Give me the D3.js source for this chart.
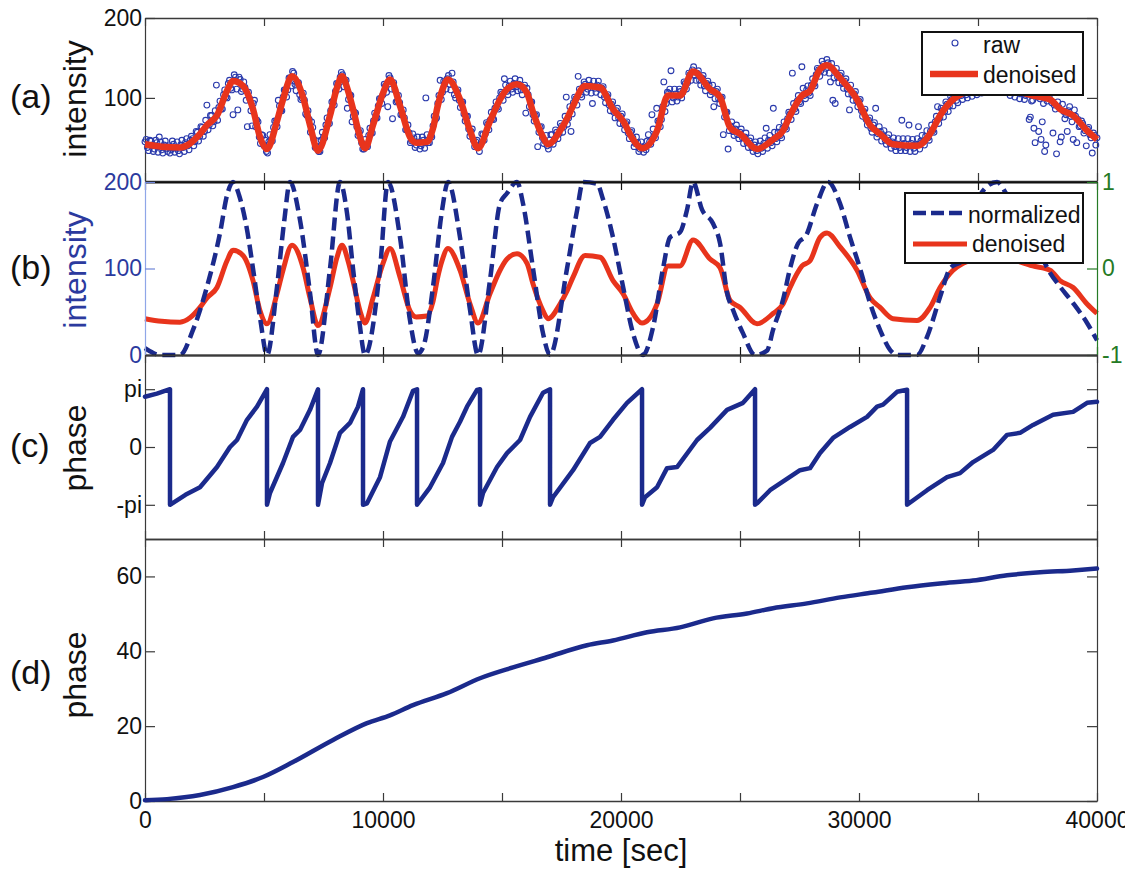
<!DOCTYPE html>
<html>
<head>
<meta charset="utf-8">
<script src="https://cdn.jsdelivr.net/npm/d3@7"></script>
<style>
  body { margin: 0; background: #fff; }
  svg { display: block; font-family: "Liberation Sans", Arial, Helvetica, sans-serif; }
</style>
</head>
<body>
<svg id="chart" width="1125" height="869"></svg>
<script>
// ---------- data ----------
const rawStep = 100;     // seconds between raw samples
const rawOffset = 50;    // the second set of samples sits halfway between the first
// raw intensity at t = 0, 100, 200, ... 40000 s
const rawIntensity = [
  45,38,47,40,36,44,51,35,41,37,
  40,35,42,37,34,41,38,44,40,47,
  49,45,57,52,63,58,91,66,78,70,
  116,88,86,104,101,118,112,79,126,85,
  123,111,113,64,99,65,97,72,51,54,
  40,33,45,47,63,70,97,84,101,110,
  110,125,133,117,119,104,100,97,78,73,
  70,48,39,33,47,51,66,69,84,96,
  108,117,126,129,121,87,104,70,82,64,
  57,44,36,40,53,56,71,75,90,99,
  104,115,89,125,74,110,96,94,79,75,
  60,56,46,50,41,45,40,47,100,44,
  52,65,73,93,122,107,119,124,117,131,
  104,108,97,95,80,77,61,58,47,45,
  39,42,54,55,67,72,74,87,88,100,
  105,124,108,115,111,118,114,117,110,113,
  81,104,95,79,78,39,63,50,46,40,
  42,54,47,57,55,65,64,101,75,58,
  94,99,127,104,113,117,111,116,93,112,
  116,111,112,101,102,91,92,82,84,75,
  77,67,68,56,57,50,43,44,36,39,
  38,46,45,79,53,87,70,73,120,93,
  106,134,100,105,101,108,107,118,119,129,
  135,128,131,122,125,115,118,116,108,89,
  108,99,100,54,82,36,65,58,61,54,
  57,50,51,44,46,38,41,34,40,37,
  43,62,47,44,87,49,57,53,62,63,
  74,80,131,86,96,95,139,103,110,106,
  116,117,129,135,134,142,137,144,120,97,
  93,126,128,118,121,111,85,104,105,96,
  96,84,83,73,72,62,66,87,55,58,
  54,47,50,43,45,39,42,38,72,43,
  38,66,43,37,41,64,46,45,52,50,
  58,59,70,89,75,84,83,92,90,98,
  101,97,105,103,109,104,111,107,113,108,
  115,110,118,111,116,113,119,114,117,112,
  113,116,110,114,108,112,107,110,105,109,
  103,106,76,97,44,101,99,70,33,96,
  100,94,91,30,88,51,83,79,84,77,
  48,77,73,65,68,59,61,54,31,53,
  50
];
// raw intensity at t = 50, 150, 250, ... 39950 s
const rawIntensityMid = [
  48,34,46,33,47,32,45,31,46,33,
  31,46,32,45,30,47,33,49,35,52,
  40,58,46,64,52,72,60,78,65,84,
  72,96,86,110,100,122,110,129,111,126,
  108,120,97,107,84,93,64,70,43,53,
  47,31,54,46,71,64,90,84,110,101,
  125,115,131,109,119,98,106,80,84,57,
  63,38,46,33,57,50,75,68,95,91,
  118,111,132,114,122,98,103,77,81,53,
  59,36,48,39,62,56,81,75,99,93,
  117,107,128,111,119,95,103,79,85,60,
  66,44,55,38,51,36,51,37,54,44,
  51,77,75,103,98,121,111,128,110,120,
  100,110,88,95,71,77,52,61,39,47,
  33,55,47,69,60,82,73,95,86,107,
  97,116,104,121,107,124,109,122,104,116,
  112,89,95,71,79,57,64,43,53,36,
  54,42,60,49,68,57,77,67,89,80,
  101,91,111,101,120,107,122,106,121,107,
  121,104,114,94,104,84,95,75,87,68,
  80,60,70,49,59,39,51,33,45,32,
  35,54,42,61,50,71,64,89,83,107,
  111,95,111,96,111,100,120,111,131,122,
  139,122,134,116,128,109,121,104,116,99,
  111,93,101,76,82,59,70,53,66,49,
  61,43,56,38,50,33,45,30,46,33,
  50,37,53,40,57,45,63,50,70,61,
  82,73,93,83,103,93,112,99,115,103,
  124,115,137,127,146,132,148,131,143,125,
  137,119,131,112,124,105,116,97,108,89,
  98,77,86,66,75,57,69,51,64,46,
  59,42,54,37,50,34,49,34,49,34,
  49,33,48,33,49,36,53,41,59,47,
  66,57,77,68,87,76,95,83,102,90,
  107,94,112,98,114,100,116,102,118,104,
  121,106,120,108,122,109,121,110,123,111,
  121,107,120,103,118,101,117,99,116,98,
  111,73,96,62,108,58,48,93,41,106,
  106,56,86,95,45,92,74,58,89,70,
  85,44,64,71,56,40,63,50,56,41
];

// denoised intensity: [time (s), intensity]
const denoised = [
  [0,42],[700,39],[1470,38],[1891,43],[2311,55],[2605,66],[3025,78],[3446,109],[3698,121],
  [4118,115],[4538,86],[4832,51],[5126,36],[5547,71],[5799,98],[6177,127],[6640,101],[6933,66],
  [7269,34],[7774,78],[8068,113],[8278,127],[8530,109],[8740,86],[9034,51],[9244,37],[9580,66],
  [10001,106],[10295,123],[10715,90],[11135,51],[11400,44],[11850,45],[12102,62],[12300,90],
  [12480,109],[12732,123],[13236,98],[13657,59],[13993,37],[14497,71],[14917,98],[15211,111],
  [15631,117],[16052,106],[16304,82],[16724,51],[16934,42],[17438,59],[17732,74],[17985,90],
  [18489,115],[19119,113],[19665,86],[20086,71],[20506,48],[20884,37],[21514,59],[21976,103],
  [22481,103],[23027,133],[23741,111],[24162,101],[24582,63],[25002,55],[25716,36],[26389,48],
  [26809,59],[27103,78],[27607,103],[27943,109],[28364,136],[28658,141],[29204,125],[29918,98],
  [30465,66],[30885,55],[31431,42],[32439,40],[32986,55],[33406,78],[33952,98],[34372,106],
  [35000,112],[35800,116],[36500,110],[37300,103],[38028,98],[38448,86],[38995,78],[39583,59],
  [40000,48]
];

// normalized signal on the right axis: [time (s), value in -1..1]
const normalized = [
  [0,-0.92],[300,-0.97],[630,-1.0],[1471,-1.0],[2017,-0.71],[2605,-0.21],[3152,0.41],[3450,0.85],
  [3698,1.0],[3950,0.85],[4286,0.45],[4538,0.0],[4850,-0.6],[5126,-1.0],[5547,-0.21],[5850,0.55],
  [6093,1.0],[6513,0.56],[6933,-0.28],[7269,-1.0],[7774,0.0],[8194,1.0],[8488,0.64],[8740,0.0],
  [9000,-0.6],[9244,-1.0],[9875,0.0],[10211,1.0],[10715,0.36],[11135,-0.6],[11471,-0.98],
  [11700,-0.9],[12102,-0.21],[12480,0.67],[12732,1.0],[13236,0.36],[13657,-0.48],[13993,-1.0],
  [14497,-0.13],[14917,0.75],[15211,0.87],[15631,1.0],[15884,0.75],[16304,0.0],[16724,-0.75],
  [17018,-1.0],[17732,0.0],[18153,0.67],[18405,1.0],[18993,0.98],[19245,0.8],[19665,0.36],
  [20086,-0.21],[20506,-0.75],[20926,-1.0],[21346,-0.68],[21766,0.0],[22061,0.36],[22481,0.42],
  [22775,0.68],[23027,1.0],[23405,0.68],[23867,0.52],[24162,0.29],[24456,-0.28],[24708,-0.48],
  [25128,-0.75],[25632,-1.0],[26136,-0.95],[26389,-0.71],[26809,-0.36],[27103,0.0],[27439,0.29],
  [27775,0.38],[28237,0.75],[28700,1.0],[29204,0.75],[29624,0.36],[30044,0.0],[30465,-0.4],
  [30885,-0.71],[31305,-0.94],[31599,-1.0],[32439,-1.0],[32860,-0.79],[33406,-0.33],[33826,0.0],
  [34372,0.1],[35087,0.85],[35801,1.0],[36221,0.85],[36800,0.6],[37400,0.3],[38028,-0.05],
  [38448,-0.21],[38995,-0.4],[39583,-0.63],[40000,-0.83]
];

// wrapped phase: [time (s), phase (rad)]
const phaseWrapped = [
  [0,2.73],[500,2.9],[1050,3.14],[1050,-3.14],[1700,-2.6],[2311,-2.19],[3025,-1.09],[3572,0],
  [3866,0.38],[4286,1.48],[4706,2.19],[5126,3.14],[5126,-3.14],[5252,-2.5],[5799,-0.87],
  [6219,0.55],[6513,0.93],[6933,2.02],[7269,3.14],[7269,-3.14],[7437,-1.97],[7774,-0.87],
  [8194,0.77],[8614,1.31],[8950,2.19],[9160,3.14],[9160,-3.14],[9328,-3.06],[9875,-1.64],
  [10295,0.3],[10841,1.64],[11261,3.05],[11430,3.14],[11430,-3.14],[11976,-2.19],[12522,-0.87],
  [12900,0.55],[13236,1.37],[13530,2.19],[13950,3.1],[14077,3.14],[14077,-3.14],[14203,-2.5],
  [14791,-1.09],[15211,-0.33],[15758,0.38],[16178,1.64],[16724,2.95],[17018,3.14],[17018,-3.14],
  [17144,-2.73],[17985,-1.26],[18699,0.22],[19119,0.55],[19665,1.48],[20254,2.4],[20884,3.14],
  [20884,-3.14],[21010,-2.73],[21514,-2.19],[21934,-1.15],[22355,-1.09],[23195,0.38],[23741,1.04],
  [24456,2.02],[25128,2.4],[25632,3.14],[25632,-3.14],[25716,-3.06],[26263,-2.35],[27523,-1.26],
  [27943,-1.15],[28364,-0.33],[28910,0.49],[29624,1.09],[30339,1.64],[30759,2.19],[31011,2.3],
  [31599,3.0],[32020,3.11],[32020,-3.14],[32860,-2.35],[33700,-1.64],[34246,-1.42],[34793,-0.82],
  [35633,-0.16],[36221,0.66],[36768,0.77],[37314,1.2],[38154,1.75],[38995,1.91],[39583,2.4],
  [40000,2.46]
];

// unwrapped (cumulative) phase: [time (s), phase (rad)]
const phaseUnwrapped = [
  [0,0.2],[924,0.5],[2311,1.6],[3698,3.7],[4958,6.4],[6219,10.4],[7900,16.3],[9328,20.8],
  [10295,22.9],[11261,25.6],[12690,28.8],[14077,32.8],[15463,35.7],[16892,38.4],[18573,41.6],
  [19665,42.9],[21094,45.1],[22481,46.4],[23867,48.8],[25296,50.1],[26389,51.5],[27817,52.8],
  [29204,54.4],[30591,55.7],[32020,57.1],[33406,58.1],[34793,58.9],[36221,60.3],[37608,61.1],
  [38995,61.6],[40000,62.1]
];

const xTickValues = [0,5000,10000,15000,20000,25000,30000,35000,40000];
const xTickLabels = [0,10000,20000,30000,40000];
const ticksA = [100,200];
const ticksB = [0,100,200];
const ticksBRight = [-1,0,1];
const ticksC = [-Math.PI,0,Math.PI];
const ticksCLabels = ["-pi","0","pi"];
const ticksD = [0,20,40,60];

// ---------- drawing ----------
const NAVY = "#1b2a8c";
const RAW = "#2a3aac";
const RED = "#e8341c";
const GREEN = "#257a25";
const BLUE_LABEL = "#2b3a9e";
const AXIS = "#3a3a3a";

const svg = d3.select("#chart");
const x = d3.scaleLinear().domain([0,40000]).range([145,1097]);

const yA = d3.scaleLinear().domain([-4,200]).range([181,18]);
const yB = d3.scaleLinear().domain([0,200]).range([355,182]);
const yB2 = d3.scaleLinear().domain([-1,1]).range([355,182]);
const yC = d3.scaleLinear().domain([-5,5]).range([539,355]);
const yD = d3.scaleLinear().domain([0,70]).range([801,539]);

function styleAxis(g, color, width) {
  g.attr("font-size", 23).attr("font-family", null);
  g.select(".domain").attr("stroke", color).attr("stroke-width", width);
  g.selectAll(".tick line").attr("stroke", color).attr("stroke-width", 1.2);
  g.selectAll(".tick text").attr("fill", "#111");
}

function drawFrame(y, opt) {
  const [y0, y1] = [y.range()[0], y.range()[1]];
  const g = svg.append("g");
  // top and bottom edges with inward ticks
  const top = g.append("g").attr("transform", `translate(0,${y1})`)
    .call(d3.axisTop(x).tickValues(xTickValues).tickSizeInner(-8).tickSizeOuter(0).tickFormat(""));
  styleAxis(top, opt.hColor || AXIS, opt.hWidth || 1.3);
  const bottom = g.append("g").attr("transform", `translate(0,${y0})`)
    .call(d3.axisBottom(x).tickValues(xTickValues).tickSizeInner(-8).tickSizeOuter(0).tickPadding(11)
      .tickFormat(d => (opt.xLabels && xTickLabels.includes(d)) ? d : ""));
  styleAxis(bottom, opt.hColor || AXIS, opt.hWidth || 1.3);
  // left edge
  const left = g.append("g").attr("transform", "translate(145,0)")
    .call(d3.axisLeft(y).tickValues(opt.leftTicks).tickSizeInner(-10).tickSizeOuter(0).tickPadding(3)
      .tickFormat(opt.leftFormat || (d => d)));
  styleAxis(left, opt.leftColor || AXIS, 1.2);
  if (opt.leftTextColor) left.selectAll(".tick text").attr("fill", opt.leftTextColor);
  if (opt.leftTickColor) left.selectAll(".tick line").attr("stroke", opt.leftTickColor);
  // right edge
  const ry = opt.rightScale || y;
  const right = g.append("g").attr("transform", "translate(1097,0)")
    .call(d3.axisRight(ry).tickValues(opt.rightTicks || opt.leftTicks).tickSizeInner(-10).tickSizeOuter(0)
      .tickPadding(5).tickFormat(opt.rightLabels ? (d => d) : ""));
  styleAxis(right, opt.rightColor || AXIS, 1.2);
  if (opt.rightLabels) right.selectAll(".tick text").attr("fill", opt.rightColor);
  if (opt.rightColor) right.selectAll(".tick line").attr("stroke", opt.rightColor);
  return g;
}

function sideLabels(letter, label, cy, labelColor) {
  svg.append("text").attr("x", 10).attr("y", cy + 9).attr("font-size", 34).attr("fill", "#111")
    .text(letter);
  svg.append("text").attr("transform", `translate(86,${cy}) rotate(-90)`)
    .attr("text-anchor", "middle").attr("font-size", 32).attr("fill", labelColor || "#111").text(label);
}

// ---- panel (a): raw + denoised ----
drawFrame(yA, { leftTicks: ticksA });
const rawPts = rawIntensity.map((v, i) => [i * rawStep, v])
  .concat(rawIntensityMid.map((v, i) => [rawOffset + i * rawStep, v]));
svg.append("g").selectAll("circle").data(rawPts).join("circle")
  .attr("cx", d => x(d[0])).attr("cy", d => yA(d[1])).attr("r", 2.9)
  .attr("fill", "none").attr("stroke", RAW).attr("stroke-width", 1.1);
svg.append("path").datum(denoised)
  .attr("d", d3.line().x(d => x(d[0])).y(d => yA(d[1])).curve(d3.curveMonotoneX))
  .attr("fill", "none").attr("stroke", RED).attr("stroke-width", 6.5).attr("stroke-linejoin", "round");
sideLabels("(a)", "intensity", 99);

// legend (a)
const legA = svg.append("g");
legA.append("rect").attr("x", 922).attr("y", 32).attr("width", 161).attr("height", 63)
  .attr("fill", "#fff").attr("stroke", "#111").attr("stroke-width", 2);
legA.append("circle").attr("cx", 955).attr("cy", 43).attr("r", 3)
  .attr("fill", "none").attr("stroke", RAW).attr("stroke-width", 1.1);
legA.append("text").attr("x", 983).attr("y", 53).attr("font-size", 23).attr("fill", "#111").text("raw");
legA.append("line").attr("x1", 930).attr("x2", 978).attr("y1", 74).attr("y2", 74)
  .attr("stroke", RED).attr("stroke-width", 6.5);
legA.append("text").attr("x", 983).attr("y", 83).attr("font-size", 23).attr("fill", "#111").text("denoised");

// ---- panel (b): normalized + denoised ----
const lineB = d3.line().x(d => x(d[0])).y(d => yB(d[1])).curve(d3.curveMonotoneX);
const lineB2 = d3.line().x(d => x(d[0])).y(d => yB2(d[1])).curve(d3.curveMonotoneX);
svg.append("path").datum(denoised).attr("d", lineB)
  .attr("fill", "none").attr("stroke", RED).attr("stroke-width", 5).attr("stroke-linejoin", "round");
svg.append("path").datum(normalized).attr("d", lineB2)
  .attr("fill", "none").attr("stroke", NAVY).attr("stroke-width", 4.5)
  .attr("stroke-dasharray", "13,6");
drawFrame(yB, {
  leftTicks: ticksB, leftColor: "#8fa6e8", leftTextColor: BLUE_LABEL, leftTickColor: "#6f86d8",
  hColor: "#111", hWidth: 2,
  rightScale: yB2, rightTicks: ticksBRight, rightColor: GREEN, rightLabels: true
});
sideLabels("(b)", "intensity", 270, BLUE_LABEL);

// legend (b)
const legB = svg.append("g");
legB.append("rect").attr("x", 905).attr("y", 193).attr("width", 178).attr("height", 70)
  .attr("fill", "#fff").attr("stroke", "#111").attr("stroke-width", 2);
legB.append("line").attr("x1", 913).attr("x2", 963).attr("y1", 213).attr("y2", 213)
  .attr("stroke", NAVY).attr("stroke-width", 4.5).attr("stroke-dasharray", "13,5");
legB.append("text").attr("x", 968).attr("y", 223).attr("font-size", 23).attr("fill", "#111").text("normalized");
legB.append("line").attr("x1", 913).attr("x2", 967).attr("y1", 244).attr("y2", 244)
  .attr("stroke", RED).attr("stroke-width", 5);
legB.append("text").attr("x", 972).attr("y", 252).attr("font-size", 23).attr("fill", "#111").text("denoised");

// ---- panel (c): wrapped phase ----
drawFrame(yC, { leftTicks: ticksC, leftFormat: d => ticksCLabels[ticksC.indexOf(d)] });
svg.append("path").datum(phaseWrapped)
  .attr("d", d3.line().x(d => x(d[0])).y(d => yC(d[1])))
  .attr("fill", "none").attr("stroke", NAVY).attr("stroke-width", 4.5)
  .attr("stroke-linejoin", "round").attr("stroke-linecap", "round");
sideLabels("(c)", "phase", 448);

// ---- panel (d): unwrapped phase ----
drawFrame(yD, { leftTicks: ticksD, xLabels: true });
svg.append("path").datum(phaseUnwrapped)
  .attr("d", d3.line().x(d => x(d[0])).y(d => yD(d[1])).curve(d3.curveMonotoneX))
  .attr("fill", "none").attr("stroke", NAVY).attr("stroke-width", 4.5).attr("stroke-linecap", "round");
sideLabels("(d)", "phase", 675);

// x axis title
svg.append("text").attr("x", 621).attr("y", 861).attr("text-anchor", "middle")
  .attr("font-size", 31).attr("fill", "#111").text("time [sec]");
</script>
</body>
</html>
